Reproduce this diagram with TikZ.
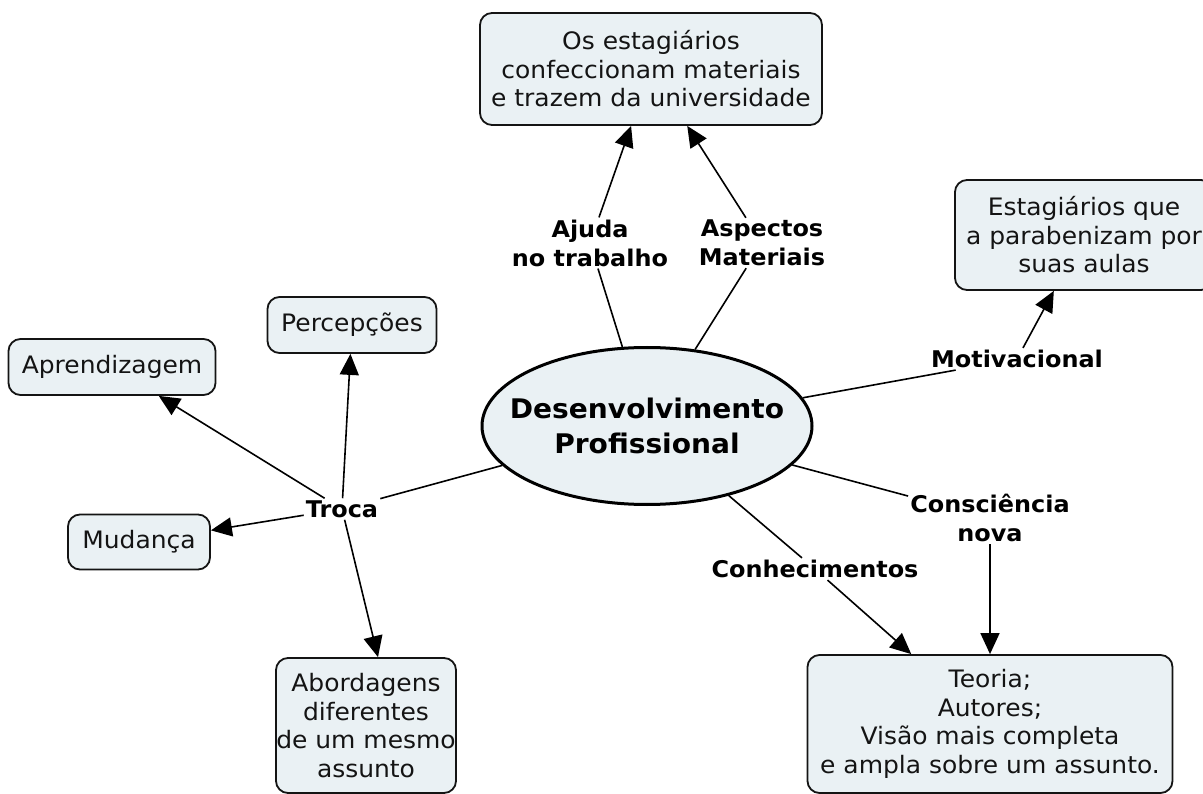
\documentclass[tikz,border=0pt]{standalone}
\usepackage{fontspec}
\setmainfont{DejaVu Sans}[FakeStretch=1.04]
\usetikzlibrary{arrows.meta,shapes.geometric}
\definecolor{conceptfill}{RGB}{234,241,244}
\definecolor{ink}{RGB}{20,20,20}
\begin{document}
\begin{tikzpicture}[x=1pt,y=-1pt,
  concept/.style={draw=ink, line width=1.8pt, rounded corners=12pt, fill=conceptfill,
    align=center, text=ink, font=\fontsize{24}{28.5}\selectfont, inner sep=0pt},
  linkword/.style={align=center, text=black, font=\bfseries\fontsize{23}{29}\selectfont, inner sep=2pt},
  plainline/.style={draw=black, line width=1.6pt},
  arrowline/.style={draw=black, line width=1.6pt, -{Triangle[length=21pt,width=19pt]}}]
\useasboundingbox (0,0) rectangle (1203,794);
\clip (0,0) rectangle (1203,794);

% central concept (zero-width lines so the ellipse keeps its own size)
\node[ellipse, draw=black, line width=3pt, fill=conceptfill, minimum width=330pt,
  minimum height=157pt, inner sep=0pt, align=center,
  font=\bfseries\fontsize{27}{35}\selectfont] (dp) at (647,426)
  {\makebox[0pt]{Desenvolvimento}\\\makebox[0pt]{Profissional}};

% concepts
\node[concept, minimum width=342pt, minimum height=112pt] (mat) at (651,69)
  {Os estagiários\\confeccionam materiais\\e trazem da universidade};
\node[concept, minimum width=258pt, minimum height=110pt] (estag) at (1084,235)
  {Estagiários que\\a parabenizam por\\suas aulas};
\node[concept, minimum width=169pt, minimum height=56pt] (percep) at (352,325) {Percepções};
\node[concept, minimum width=207pt, minimum height=56pt] (aprend) at (112,367) {Aprendizagem};
\node[concept, minimum width=142pt, minimum height=55pt] (mud) at (139,542) {Mudança};
\node[concept, minimum width=180pt, minimum height=135pt] (abord) at (366,725.5)
  {Abordagens\\diferentes\\de um mesmo\\assunto};
\node[concept, minimum width=365pt, minimum height=138pt] (teoria) at (990,724)
  {Teoria;\\Autores;\\Visão mais completa\\e ampla sobre um assunto.};

% linking phrases
\node[linkword] (ajuda) at (590,243) {Ajuda\\no trabalho};
\node[linkword] (aspec) at (762,243) {Aspectos\\Materiais};
\node[linkword] (motiv) at (1017,359) {Motivacional};
\node[linkword] (troca) at (342,509) {Troca};
\node[linkword] (consc) at (990,518) {Consciência\\nova};
\node[linkword] (conhec) at (815,569) {Conhecimentos};

% connections
\draw[plainline] (dp) -- (ajuda);
\draw[arrowline] (ajuda) -- (mat);
\draw[plainline] (dp) -- (aspec);
\draw[arrowline] (aspec) -- (mat);
\draw[plainline] (dp) -- (motiv);
\draw[arrowline] (motiv) -- (estag);
\draw[plainline] (dp) -- (troca);
\draw[arrowline] (troca) -- (aprend);
\draw[arrowline] (troca) -- (percep);
\draw[arrowline] (troca) -- (mud);
\draw[arrowline] (troca) -- ([xshift=12pt]abord.north);
\draw[plainline] (dp) -- (consc);
\draw[arrowline] (consc) -- (teoria);
\draw[plainline] (dp) -- (conhec);
\draw[arrowline] (conhec) -- (teoria);
\end{tikzpicture}
\end{document}
